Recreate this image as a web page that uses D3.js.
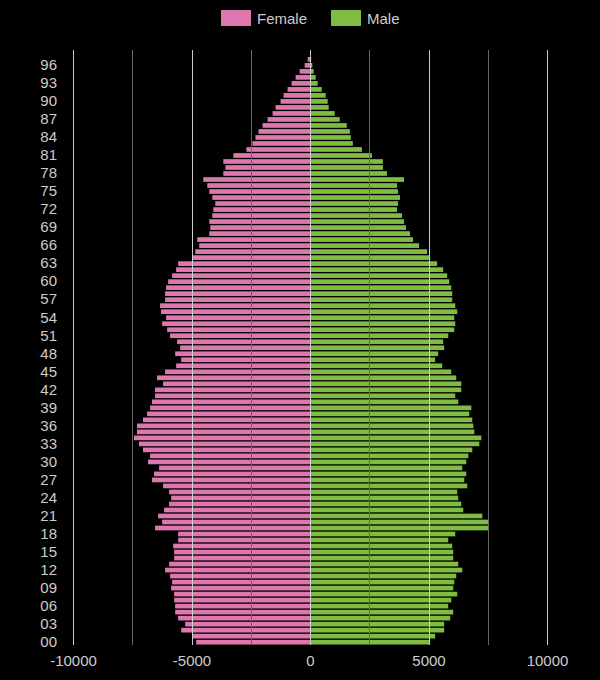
<!DOCTYPE html>
<html>
<head>
<meta charset="utf-8">
<script src="https://cdn.jsdelivr.net/npm/d3@7.9.0/dist/d3.min.js"></script>
<style>
  body { margin: 0; background: #000; }
  svg { display: block; font-family: "Liberation Sans", Arial, sans-serif; }
  .tick text { fill: #ccc; }
</style>
</head>
<body>
<div id="chart"></div>
<script>
// ages 0..98 (98 is an empty top row)
const ages = d3.range(0, 99);

const female = [
  4801, 4970, 5436, 5267, 5563, 5690, 5690, 5733, 5733, 5860,
  5817, 5902, 6114, 5945, 5733, 5733, 5775, 5563, 5563, 6538,
  6241, 6410, 6156, 5945, 5860, 5945, 6199, 6665, 6580, 6368,
  6834, 6749, 7046, 7215, 7427, 7300, 7300, 7046, 6876, 6749,
  6665, 6538, 6538, 6199, 6453, 6114, 5648, 5436, 5690, 5479,
  5606, 5902, 6029, 6241, 6072, 6283, 6326, 6114, 6114, 6072,
  5987, 5817, 5648, 5563, 4970, 4843, 4674, 4758, 4250, 4208,
  4250, 4123, 4081, 3996, 4123, 4250, 4335, 4504, 3657, 3572,
  3657, 3234, 2683, 2429, 2302, 2175, 2002, 1791, 1579, 1452,
  1241, 1114, 945, 776, 606, 437, 226, 99, 0
];

const male = [
  5027, 5281, 5662, 5662, 5917, 6043, 5832, 5959, 6213, 6043,
  6086, 6170, 6425, 6255, 6043, 6043, 6001, 5832, 6128, 7526,
  7526, 7272, 6467, 6382, 6255, 6213, 6636, 6509, 6594, 6425,
  6594, 6679, 6848, 7145, 7229, 6933, 6891, 6848, 6721, 6806,
  6255, 6128, 6382, 6382, 6170, 5959, 5577, 5281, 5408, 5662,
  5620, 5832, 6086, 6128, 6086, 6213, 6128, 6001, 6001, 5959,
  5874, 5789, 5620, 5366, 5069, 4942, 4603, 4349, 4222, 4052,
  3968, 3883, 3671, 3714, 3798, 3714, 3671, 3968, 3248, 3078,
  3078, 2612, 2189, 1808, 1723, 1681, 1551, 1255, 1043, 790,
  747, 663, 494, 324, 240, 155, 99, 50, 0
];

const series = ['Female', 'Male'];
const colors = ['#de77ae', '#7fbc41'];
const xTicks = [-10000, -5000, 0, 5000, 10000];
const gridTicks = [-10000, -7500, -5000, -2500, 0, 2500, 5000, 7500, 10000];
const ageTicks = ages.filter((d) => d % 3 === 0 && d <= 96);

const width = 600;
const height = 680;
const margin = { top: 50, right: 53, bottom: 35, left: 73 };

const rows = ages.map((age, i) => ({ age, female: female[i], male: male[i] }));

const svg = d3.select('#chart')
  .append('svg')
  .attr('width', width)
  .attr('height', height);

const x = d3.scaleLinear()
  .domain([-10000, 10000])
  .range([margin.left, width - margin.right]);

const y = d3.scaleBand()
  .domain(ages)
  .range([height - margin.bottom - 0.5, margin.top + 1])
  .paddingInner(0.22)
  .paddingOuter(0);

// bars
svg.append('g')
  .selectAll('rect')
  .data(rows)
  .join('rect')
  .attr('x', (d) => x(-d.female))
  .attr('y', (d) => y(d.age))
  .attr('width', (d) => x(0) - x(-d.female))
  .attr('height', y.bandwidth())
  .attr('fill', colors[0]);

svg.append('g')
  .selectAll('rect')
  .data(rows)
  .join('rect')
  .attr('x', x(0))
  .attr('y', (d) => y(d.age))
  .attr('width', (d) => x(d.male) - x(0))
  .attr('height', y.bandwidth())
  .attr('fill', colors[1]);

// gridlines, drawn over the bars
svg.append('g')
  .selectAll('line')
  .data(gridTicks)
  .join('line')
  .attr('x1', (d) => Math.round(x(d)) + 0.5)
  .attr('x2', (d) => Math.round(x(d)) + 0.5)
  .attr('y1', margin.top)
  .attr('y2', height - margin.bottom)
  .attr('stroke', (d) => (d % 5000 === 0 ? '#ccc' : '#666'))
  .attr('stroke-width', 1);

// axes
const xAxis = svg.append('g')
  .attr('transform', `translate(0, ${height - margin.bottom})`)
  .call(d3.axisBottom(x).tickValues(xTicks).tickSize(0).tickPadding(10).tickFormat((d) => String(d)));
xAxis.select('.domain').remove();
xAxis.selectAll('text').style('font-size', '15px');

const yAxis = svg.append('g')
  .attr('transform', `translate(${margin.left}, 0)`)
  .call(d3.axisLeft(y).tickValues(ageTicks).tickSize(0).tickPadding(16)
    .tickFormat((d) => String(d).padStart(2, '0')));
yAxis.select('.domain').remove();
yAxis.selectAll('text').style('font-size', '15px');

// legend
const legend = svg.append('g').attr('transform', 'translate(221, 10)');
const item = legend.selectAll('g')
  .data(series)
  .join('g')
  .attr('transform', (d, i) => `translate(${i * 110}, 0)`);
item.append('rect')
  .attr('width', 30)
  .attr('height', 16)
  .attr('fill', (d, i) => colors[i]);
item.append('text')
  .attr('x', 36)
  .attr('y', 13.5)
  .attr('fill', '#ccc')
  .style('font-size', '15px')
  .text((d) => d);
</script>
</body>
</html>
